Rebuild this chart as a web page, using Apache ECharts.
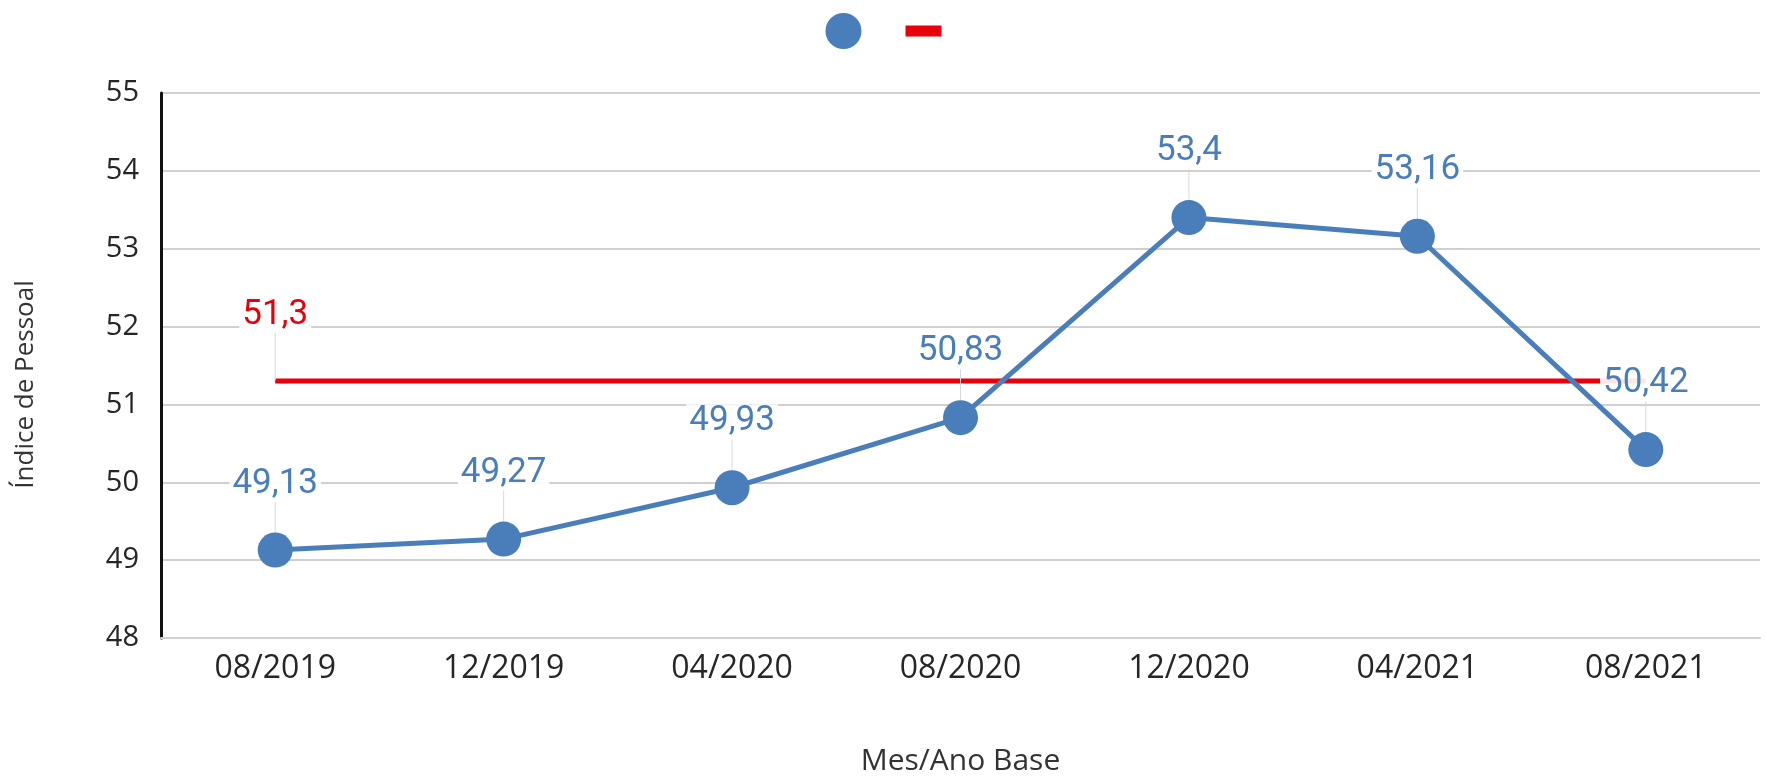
<!DOCTYPE html>
<html>
<head>
<meta charset="utf-8">
<style>
  html, body { margin: 0; padding: 0; background: #fff; }
  #main { width: 1767px; height: 781px; }
</style>
<script src="https://cdn.jsdelivr.net/npm/echarts@6/dist/echarts.min.js"></script>
</head>
<body>
<div id="main"></div>
<script>
// dados
var categorias = ['08/2019', '12/2019', '04/2020', '08/2020', '12/2020', '04/2021', '08/2021'];
var indice = [49.13, 49.27, 49.93, 50.83, 53.4, 53.16, 50.42];
var meta = [51.3, 51.3, 51.3, 51.3, 51.3, 51.3, 51.3];
var yTicks = { min: 48, max: 55, interval: 1 };

var azul = '#4a7ebb';
var vermelho = '#e8000b';

function fmt(v) {
    return String(v).replace('.', ',');
}

var chartDom = document.getElementById('main');
var myChart = echarts.init(chartDom);

var option = {
    animation: false,
    backgroundColor: '#ffffff',
    legend: {
        top: 8,
        left: 'center',
        itemGap: 44,
        itemWidth: 36,
        itemHeight: 36,
        formatter: function () { return ''; },
        data: [
            { name: ' ', icon: 'circle', itemStyle: { color: azul } },
            { name: '  ', icon: 'path://M0,0h36v11h-36z', itemStyle: { color: vermelho } }
        ]
    },
    grid: {
        left: 161,
        right: 7,
        top: 93,
        bottom: 142
    },
    xAxis: {
        type: 'category',
        data: categorias,
        boundaryGap: true,
        name: 'Mes/Ano Base',
        nameLocation: 'middle',
        nameGap: 108,
        nameTextStyle: { fontFamily: 'Open Sans', fontSize: 30, color: '#333333' },
        axisLine: { show: true, lineStyle: { color: '#d0d0d0', width: 2 } },
        axisTick: { show: false },
        axisLabel: { fontFamily: 'Open Sans', fontSize: 32, color: '#262626', margin: 15 }
    },
    yAxis: {
        type: 'value',
        min: yTicks.min,
        max: yTicks.max,
        interval: yTicks.interval,
        name: 'Índice de Pessoal',
        nameLocation: 'middle',
        nameGap: 122,
        nameTextStyle: { fontFamily: 'Open Sans', fontSize: 26, color: '#333333', padding: [0, 38, 0, 0] },
        axisLine: { show: true, lineStyle: { color: '#111111', width: 3 } },
        axisTick: { show: false },
        splitLine: { show: true, lineStyle: { color: '#d0d0d0', width: 2 } },
        axisLabel: { fontFamily: 'Open Sans', fontSize: 29, color: '#262626', margin: 22 }
    },
    series: [
        {
            name: '  ',
            type: 'line',
            data: meta.map(function (v, i) {
                return i === 0 ? { value: v } : { value: v, label: { show: false }, labelLine: { show: false } };
            }),
            symbol: 'circle',
            symbolSize: 1,
            z: 2,
            lineStyle: { color: vermelho, width: 5 },
            itemStyle: { color: vermelho },
            label: {
                show: true,
                position: 'inside',
                fontFamily: 'Roboto',
                fontSize: 35,
                color: vermelho,
                backgroundColor: 'rgba(255,255,255,0.9)',
                padding: [0, 3],
                formatter: function (p) { return fmt(p.value); }
            },
            labelLayout: { dy: -66 },
            labelLine: { show: true, lineStyle: { color: '#d9d9d9', width: 1 } }
        },
        {
            name: ' ',
            type: 'line',
            data: indice,
            symbol: 'circle',
            symbolSize: 35,
            z: 3,
            lineStyle: { color: azul, width: 5 },
            itemStyle: { color: azul },
            label: {
                show: true,
                position: 'inside',
                fontFamily: 'Roboto',
                fontSize: 35,
                color: azul,
                backgroundColor: 'rgba(255,255,255,0.9)',
                padding: [0, 3],
                formatter: function (p) { return fmt(p.value); }
            },
            labelLayout: { dy: -66 },
            labelLine: { show: true, lineStyle: { color: '#d9d9d9', width: 1 } }
        }
    ]
};
myChart.setOption(option);
</script>
</body>
</html>
